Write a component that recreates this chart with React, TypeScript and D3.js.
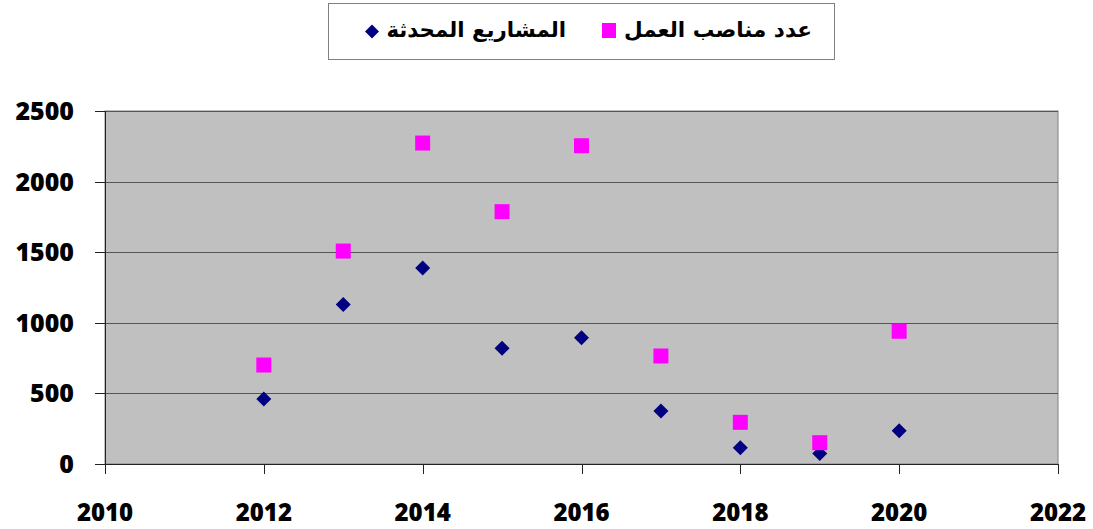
import React from "react";
import * as d3 from "d3";

const years = [2012, 2013, 2014, 2015, 2016, 2017, 2018, 2019, 2020];
const projects = [460, 1130, 1388, 819, 895, 375, 115, 75, 236];
const jobs = [701, 1508, 2273, 1787, 2254, 765, 295, 151, 940];
const yTicks = [0, 500, 1000, 1500, 2000, 2500];
const xTicks = [2010, 2012, 2014, 2016, 2018, 2020, 2022];
const seriesJobsName = "عدد مناصب العمل";
const seriesProjectsName = "المشاريع المحدثة";

export default function App() {
  const W = 1093, H = 529;
  const left = 105, right = 1058, top = 111, bottom = 464;
  const x = d3.scaleLinear().domain([2010, 2022]).range([left, right]);
  const y = d3.scaleLinear().domain([0, 2500]).range([bottom, top]);
  const font = "'Open Sans', sans-serif";
  const arFont = "'DejaVu Sans', 'Noto Sans', sans-serif";
  const diamond = (cx: number, cy: number, r: number) =>
    `M${cx},${cy - r}L${cx + r},${cy}L${cx},${cy + r}L${cx - r},${cy}Z`;
  return (
    <svg width={W} height={H} style={{ position: "absolute", left: 0, top: 0, background: "#fff" }}>
      <rect x={left} y={top} width={right - left} height={bottom - top} fill="#c0c0c0" stroke="#808080" />
      {yTicks.filter(t => t > 0).map(t => (
        <line key={t} x1={left} x2={right} y1={Math.round(y(t)) + 0.5} y2={Math.round(y(t)) + 0.5} stroke="#555" strokeWidth={1} />
      ))}
      <line x1={left + 0.5} x2={left + 0.5} y1={top} y2={bottom} stroke="#222" />
      <line x1={left} x2={right} y1={bottom + 0.5} y2={bottom + 0.5} stroke="#222" />
      {yTicks.map(t => (
        <g key={t}>
          <line x1={left - 10} x2={left} y1={Math.round(y(t)) + 0.5} y2={Math.round(y(t)) + 0.5} stroke="#222" />
          <text x={74} y={y(t)} dy="0.36em" textAnchor="end" fontFamily={font} fontWeight={800} fontSize={25} fill="#000">{t}</text>
        </g>
      ))}
      {xTicks.map(t => (
        <g key={t}>
          <line x1={Math.round(x(t)) + 0.5} x2={Math.round(x(t)) + 0.5} y1={bottom} y2={bottom + 10} stroke="#222" />
          <text x={x(t)} y={521} textAnchor="middle" fontFamily={font} fontWeight={800} fontSize={24} fill="#000">{t}</text>
        </g>
      ))}
      {years.map((yr, i) => (
        <path key={"p" + yr} d={diamond(x(yr), y(projects[i]), 7.5)} fill="#000080" />
      ))}
      {years.map((yr, i) => (
        <rect key={"j" + yr} x={x(yr) - 7.5} y={y(jobs[i]) - 7.5} width={15} height={15} fill="#ff00ff" />
      ))}
      <rect x={328.5} y={3.5} width={506} height={56} fill="#fff" stroke="#808080" />
      <rect x={602} y={23} width={14} height={15} fill="#ff00ff" />
      <text x={812} y={37} textAnchor="start" direction="rtl" fontFamily={arFont} fontWeight="bold" fontSize={21.5} fill="#000">{seriesJobsName}</text>
      <path d={diamond(372, 31.5, 7)} fill="#000080" />
      <text x={566} y={37} textAnchor="start" direction="rtl" fontFamily={arFont} fontWeight="bold" fontSize={21.3} fill="#000">{seriesProjectsName}</text>
    </svg>
  );
}
